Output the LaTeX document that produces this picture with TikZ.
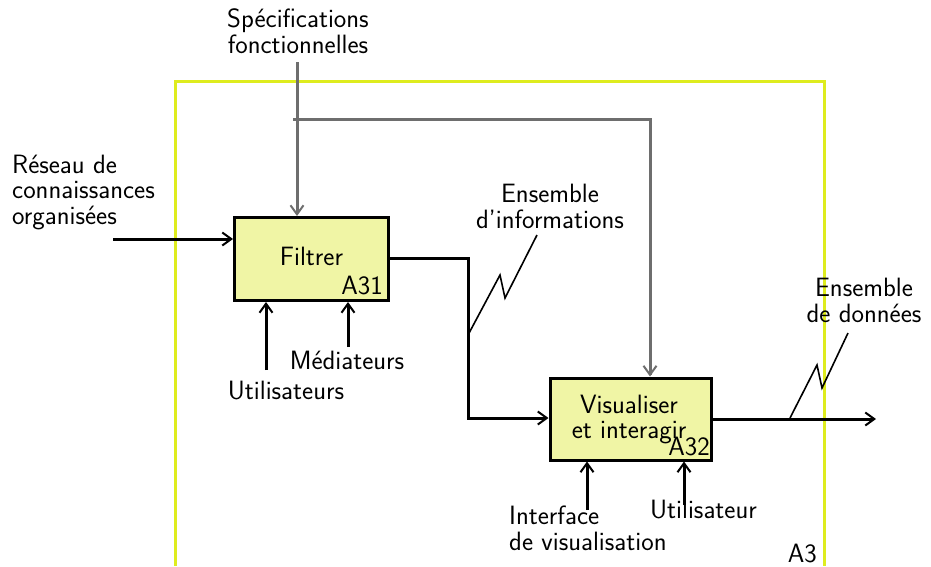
\documentclass[tikz,border=0pt]{standalone}
\usepackage{fontspec}
\setsansfont{Latin Modern Sans}
\usetikzlibrary{arrows.meta,calc}
\definecolor{frameyellow}{RGB}{222,236,30}
\definecolor{boxfill}{RGB}{240,245,165}
\definecolor{ctrlgray}{RGB}{110,110,110}
\begin{document}
\begin{tikzpicture}[x=1pt,y=-1pt,
  every node/.style={font=\sffamily\fontsize{26.5}{25.5}\selectfont, inner sep=0pt},
  fbox/.style={draw=black, line width=3pt, fill=boxfill, inner sep=0pt},
  flow/.style={line width=3pt, -{Straight Barb[length=9pt,width=13pt,line width=2pt]}},
  ctrl/.style={line width=3pt, draw=ctrlgray, -{Straight Barb[length=9pt,width=13pt,line width=2pt]}},
  zig/.style={line width=1.6pt},
  lbl/.style={align=center}]
\useasboundingbox (0,0) rectangle (931,566);
% frame
\draw[frameyellow, line width=3pt] (175,566) -- (175,81) -- (824,81) -- (824,566);
\node[anchor=base east] (a3) at (817,562) {A3};
% boxes
\node[fbox, minimum width=154pt, minimum height=83pt] (filtrer) at (311.5,259) {};
\node[anchor=base] (filtrertxt) at (311.5,265) {Filtrer};
\node[anchor=base east] (a31) at (383,294) {A31};
\node[fbox, minimum width=161pt, minimum height=82pt] (visu) at (630.5,419) {};
\node[anchor=base] (visutxt) at (629,413) {Visualiser};
\node[anchor=base] (visutxt2) at (629,438) {et interagir};
\node[anchor=base east] (a32) at (710,455) {A32};
% control
\node[lbl, anchor=base] (spec) at (298,53) {Spécifications\\fonctionnelles};
\coordinate (specstart) at (297,62);
\coordinate (branch) at (293,119);
\coordinate (branchR) at (650,119);
\draw[ctrl] (specstart) -- (specstart |- filtrer.north);
\draw[line width=3pt, ctrlgray] (branch) -- (branchR) -- ($(branchR |- visu.north)+(0,-2)$);
\draw[ctrl] ($(branchR |- visu.north)+(0,-3)$) -- (branchR |- visu.north);
% input
\node[align=left, anchor=base west] (reseau) at (12,224) {Réseau de\\connaissances\\organisées};
\coordinate (inp) at (113,239);
\draw[flow] (inp) -- (inp -| filtrer.west);
% mechanisms filtrer
\node[anchor=base] (util) at (286,399) {Utilisateurs};
\coordinate (utilS) at (266,370);
\draw[flow] (utilS) -- (utilS |- filtrer.south);
\node[anchor=base] (med) at (347,369) {Médiateurs};
\coordinate (medS) at (348,347);
\draw[flow] (medS) -- (medS |- filtrer.south);
% filtrer -> visu
\coordinate (out1) at (387,258);
\coordinate (bend1) at (468,258);
\draw[flow] (out1 -| filtrer.east) -- (bend1) -- (468,418) -- (468,418 -| visu.west);
\node[lbl, anchor=base] (ensinf) at (550,228) {Ensemble\\d'informations};
\draw[zig] (468,335) -- (500,275) -- (505,298) -- (537,235);
% output
\coordinate (outEnd) at (876,419);
\draw[flow] (visu.east |- outEnd) -- (outEnd);
\draw[zig] (790,418) -- (817,365) -- (822,388) -- (848,333);
\node[lbl, anchor=base] (ensdon) at (864,322) {Ensemble\\de données};
% mechanisms visu
\node[align=left, anchor=base west] (interf) at (509,550) {Interface\\de visualisation};
\coordinate (intS) at (587,510);
\draw[flow] (intS) -- (intS |- visu.south);
\node[anchor=base] (utilv) at (703.5,518) {Utilisateur};
\coordinate (utvS) at (684,505);
\draw[flow] (utvS) -- (utvS |- visu.south);
\end{tikzpicture}
\end{document}
